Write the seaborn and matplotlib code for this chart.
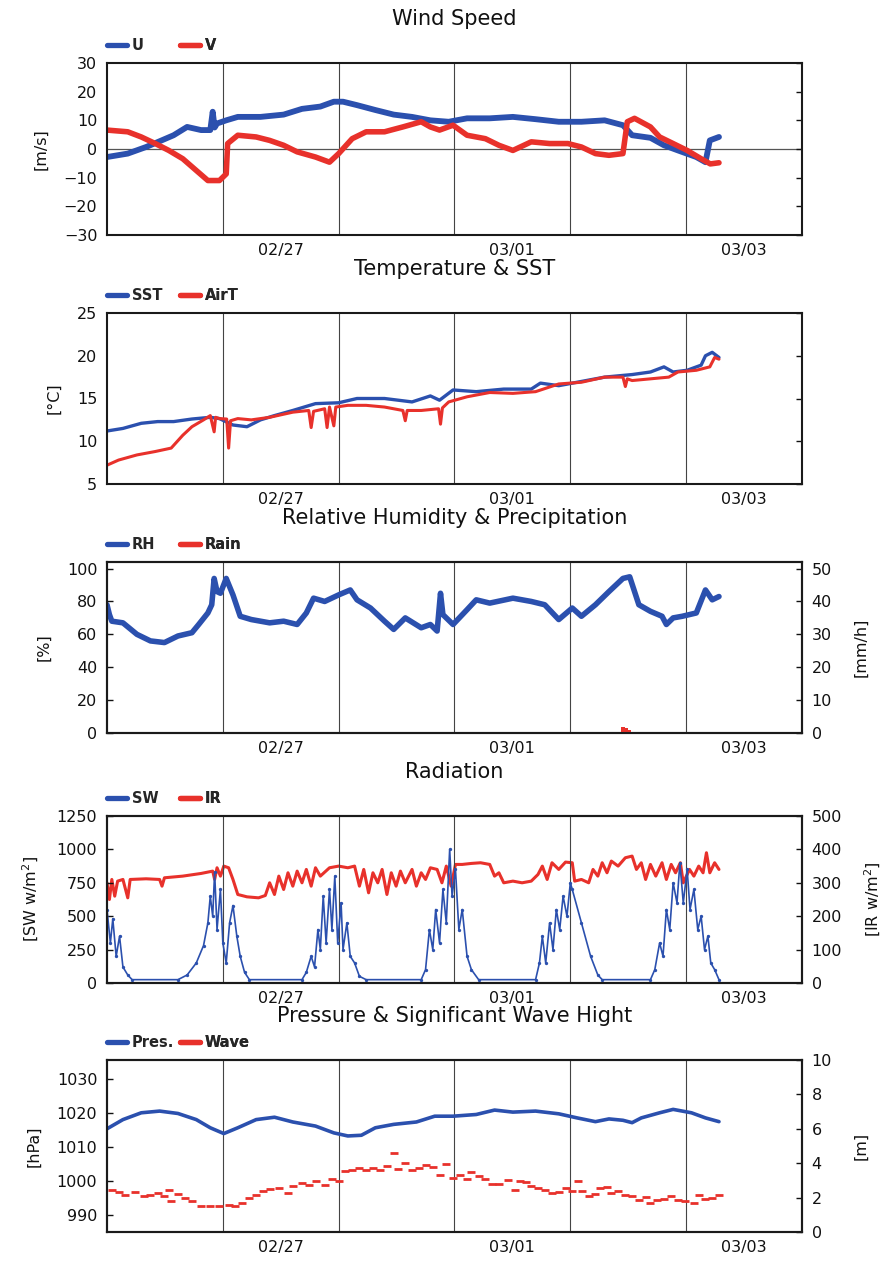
import numpy as np
import pandas as pd
import matplotlib
matplotlib.use("Agg")
import matplotlib.pyplot as plt
from matplotlib.lines import Line2D
import seaborn as sns

# ---------------- data (hours since 02/26 00:00) ----------------
day_labels = ["02/27", "03/01", "03/03"]
day_label_hours = [36, 84, 132]
grid_hours = [24, 48, 72, 96, 120]

u_hours = [0, 4.3, 8.1, 10.9, 13.8, 16.6, 19.5, 21.4, 21.9, 22.3, 22.8, 24.7, 27.1, 31.8, 36.6, 40.4, 44.2, 47.0, 48.9, 51.8,
           55.6, 59.4, 63.2, 67.0, 70.8, 74.6, 79.3, 84.1, 88.8, 93.6, 98.3, 103.1, 106.9, 108.8, 112.6, 115.4, 118.3, 122.1, 124.0, 124.9, 126.8]
u_vals = [-2.8, -1.6, 0.7, 2.7, 4.8, 7.7, 6.6, 6.6, 13.0, 7.5, 8.9, 10.0, 11.2, 11.2, 12.0, 14.0, 14.8, 16.5, 16.5, 15.3,
          13.6, 12.0, 11.2, 10.0, 9.5, 10.7, 10.7, 11.2, 10.4, 9.5, 9.5, 10.0, 8.3, 4.8, 3.9, 1.3, -0.5, -2.8, -4.6, 3.0, 4.2]
v_hours = [0, 4.3, 7.1, 10.0, 12.8, 15.7, 18.5, 20.9, 23.3, 24.7, 25.0, 27.1, 30.9, 33.7, 36.6, 39.4, 43.2, 46.1, 48.0, 50.8,
           53.7, 57.5, 61.3, 65.1, 67.0, 68.9, 71.7, 74.6, 78.4, 81.2, 84.1, 87.9, 91.7, 95.5, 98.3, 101.2, 104.0, 106.9, 107.8, 109.3,
           112.6, 114.5, 117.3, 120.2, 123.1, 125.0, 126.8]
v_vals = [6.6, 6.0, 4.2, 1.9, -0.5, -3.4, -7.5, -11, -11, -8.7, 1.9, 4.8, 4.2, 3.0, 1.3, -1.0, -2.8, -4.6, -1.6, 3.6,
          6.0, 6.0, 7.7, 9.5, 7.7, 6.6, 8.3, 4.8, 3.6, 1.3, -0.5, 2.5, 1.9, 1.9, 0.7, -1.6, -2.2, -1.6, 9.5, 10.7,
          7.7, 4.2, 1.9, -0.5, -3.4, -5.2, -4.8]

sst_hours = [0, 3.3, 7.1, 10.5, 13.8, 17.6, 21.4, 23.3, 26.1, 29.0, 31.8, 34.7, 38.5, 43.2, 48.0, 51.8, 57.5, 63.2, 67.0, 68.9,
             71.7, 76.5, 82.2, 87.9, 89.8, 93.6, 97.4, 103.1, 108.8, 112.6, 115.4, 117.3, 120.2, 123.1, 124.0, 125.4, 126.8]
sst_vals = [11.2, 11.5, 12.1, 12.3, 12.3, 12.6, 12.8, 12.65, 11.9, 11.7, 12.5, 13.0, 13.6, 14.4, 14.5, 15.0, 15.0, 14.6, 15.3, 14.8,
            16.0, 15.8, 16.1, 16.1, 16.8, 16.5, 16.9, 17.5, 17.8, 18.1, 18.7, 18.1, 18.3, 18.9, 20.0, 20.4, 19.8]
airt_hours = [0, 2.4, 6.2, 10.0, 13.3, 15.7, 17.6, 20.0, 21.4, 22.2, 22.5, 23.3, 24.8, 25.2, 25.6, 27.1, 29.9, 33.7, 38.5, 41.8,
              42.3, 42.8, 45.1, 45.6, 46.1, 47.0, 47.4, 49.9, 53.7, 57.5, 61.3, 61.8, 62.2, 65.1, 68.7, 69.1, 69.5, 70.8, 74.6, 79.3,
              84.1, 88.8, 93.6, 98.3, 103.1, 106.9, 107.4, 107.8, 108.8, 112.6, 116.4, 118.3, 122.1, 124.9, 125.9, 126.8]
airt_vals = [7.2, 7.8, 8.4, 8.8, 9.2, 10.7, 11.7, 12.5, 13.0, 11.1, 12.8, 12.65, 12.6, 9.2, 12.4, 12.65, 12.5, 12.8, 13.4, 13.6,
             11.6, 13.5, 13.8, 11.6, 14.0, 11.8, 14.0, 14.2, 14.2, 14.0, 13.6, 12.4, 13.6, 13.6, 13.8, 12.0, 13.9, 14.6, 15.2, 15.7,
             15.6, 15.8, 16.7, 16.9, 17.5, 17.5, 16.4, 17.3, 17.1, 17.3, 17.5, 18.1, 18.3, 18.7, 19.8, 19.6]

rh_hours = [0, 0.5, 1.0, 3.3, 6.2, 9.0, 11.9, 14.7, 17.6, 19.0, 20.9, 21.7, 22.2, 22.8, 23.5, 24.7, 26.1, 27.6, 29.9, 33.7,
            36.6, 39.4, 41.3, 42.8, 45.1, 48.0, 50.4, 51.8, 54.6, 57.5, 59.4, 61.8, 65.1, 67.0, 68.4, 69.1, 69.6, 71.7, 74.6, 76.5,
            79.3, 84.1, 87.9, 90.7, 93.6, 96.4, 98.3, 101.2, 104.0, 106.9, 108.3, 110.2, 112.6, 115.0, 115.9, 117.3, 119.2, 122.1, 124.0, 125.4,
            126.8]
rh_vals = [78, 72, 68, 67, 60, 56, 55, 59, 61, 66, 73, 78, 94, 86, 85, 94, 84, 71, 69, 67,
           68, 66, 73, 82, 80, 84, 87, 81, 76, 68, 63, 70, 64, 66, 62, 85, 72, 66, 75, 81,
           79, 82, 80, 78, 69, 76, 71, 78, 86, 94, 95, 78, 74, 71, 66, 70, 71, 73, 87, 81,
           83]
rain_hours = [106.9, 107.6, 108.2]
rain_vals = [1.9, 1.6, 0.9]

sw_hours = [0, 0.7, 1.2, 1.9, 2.6, 3.3, 4.3, 5.2, 14.7, 16.6, 18.5, 20.0, 20.9, 21.4, 21.9, 22.3, 22.8, 23.5, 24.0, 24.7,
            25.4, 26.1, 26.9, 27.6, 28.5, 29.5, 40.4, 41.3, 42.3, 43.0, 43.7, 44.2, 44.8, 45.4, 46.1, 46.6, 47.2, 47.8, 48.5, 48.9,
            49.7, 50.4, 51.3, 52.3, 53.7, 65.1, 66.0, 66.8, 67.5, 68.1, 68.9, 69.6, 70.3, 71.0, 71.5, 72.2, 72.9, 73.6, 74.6, 75.5,
            77.0, 88.8, 89.6, 90.2, 90.9, 91.7, 92.4, 93.1, 93.8, 94.5, 95.3, 96.0, 96.4, 98.3, 100.2, 101.7, 102.6, 112.6, 113.5, 114.5,
            115.2, 115.9, 116.6, 117.3, 118.1, 118.7, 119.4, 120.2, 120.8, 121.6, 122.4, 123.1, 123.8, 124.5, 125.1, 125.9, 126.8]
sw_vals = [550, 300, 480, 200, 350, 120, 60, 25, 25, 60, 150, 280, 450, 650, 500, 830, 400, 700, 300, 150,
           450, 580, 350, 200, 80, 25, 25, 80, 200, 120, 400, 250, 650, 300, 700, 400, 800, 300, 600, 250,
           450, 200, 150, 50, 25, 25, 100, 400, 250, 550, 300, 700, 450, 1000, 650, 850, 400, 550, 200, 100,
           25, 25, 150, 350, 150, 450, 250, 550, 400, 650, 500, 750, 700, 450, 200, 60, 25, 25, 100, 300,
           200, 550, 400, 750, 600, 900, 600, 850, 550, 700, 400, 500, 250, 350, 150, 100, 25]

ir_hours = [0, 0.5, 1.0, 1.6, 2.2, 3.3, 4.3, 4.8, 8.1, 10.9, 11.4, 11.9, 15.7, 19.5, 21.9, 22.3, 22.8, 23.5, 24.2, 25.2,
            26.1, 27.1, 29.0, 31.4, 32.8, 33.7, 34.7, 35.6, 36.6, 37.5, 38.5, 39.4, 40.4, 41.3, 42.3, 43.2, 44.2, 46.1, 48.0, 49.9,
            51.3, 52.3, 53.2, 54.2, 55.1, 56.1, 57.0, 58.0, 58.9, 59.9, 60.8, 61.8, 63.2, 64.1, 65.1, 66.0, 67.0, 68.4, 69.4, 70.3,
            71.3, 72.2, 73.6, 75.5, 77.4, 79.3, 80.3, 81.2, 82.2, 84.1, 86.0, 87.9, 89.3, 90.2, 91.2, 92.2, 93.6, 95.0, 96.4, 96.9,
            98.3, 99.8, 100.7, 101.7, 102.6, 103.6, 104.5, 105.9, 107.4, 108.8, 109.7, 110.7, 111.6, 112.6, 113.7, 115.0, 115.9, 116.9, 117.8, 118.8,
            119.4, 120.7, 121.6, 122.6, 123.5, 124.2, 124.9, 125.9, 126.8]
ir_vals = [300, 250, 310, 260, 305, 310, 255, 310, 312, 310, 290, 315, 320, 328, 335, 310, 345, 320, 350, 345,
           310, 265, 258, 255, 262, 300, 265, 320, 280, 330, 290, 335, 300, 340, 290, 345, 320, 345, 350, 345,
           350, 290, 340, 270, 330, 300, 340, 265, 330, 290, 335, 300, 340, 290, 330, 310, 345, 340, 300, 350,
           290, 355, 355, 358, 360, 355, 320, 330, 300, 305, 300, 305, 325, 350, 310, 360, 340, 362, 360, 305,
           310, 300, 340, 320, 360, 330, 365, 350, 375, 380, 340, 360, 310, 355, 320, 360, 310, 355, 330, 360,
           300, 340, 320, 350, 330, 390, 330, 360, 340]

pres_hours = [0, 3.3, 7.1, 10.9, 14.7, 18.5, 21.4, 24.2, 27.1, 30.9, 34.7, 38.5, 43.2, 47.0, 49.9, 52.7, 55.6, 59.4, 64.1, 67.9,
              71.7, 76.5, 80.3, 84.1, 88.8, 93.6, 97.4, 101.2, 104.0, 106.9, 108.8, 110.7, 114.5, 117.3, 121.1, 124.0, 126.8]
pres_vals = [1015.3, 1018.0, 1020.0, 1020.5, 1019.8, 1018.0, 1015.6, 1013.9, 1015.6, 1018.0, 1018.7, 1017.3, 1016.1, 1014.1, 1013.2,
             1013.4, 1015.6, 1016.6, 1017.3, 1019.0, 1019.0, 1019.5, 1020.8, 1020.2, 1020.5, 1019.7, 1018.5, 1017.4, 1018.2, 1017.8,
             1017.1, 1018.5, 1020.0, 1021.0, 1020.0, 1018.5, 1017.4]
wave_hours = [1.0, 2.4, 3.8, 5.7, 7.6, 9.0, 10.5, 11.9, 12.8, 13.3, 14.7, 16.2, 17.6, 19.5, 21.4, 23.3, 25.2, 26.6, 28.0, 29.5,
              30.9, 32.3, 33.7, 35.6, 37.5, 38.5, 40.4, 41.8, 43.2, 45.1, 46.6, 48.0, 49.4, 50.8, 52.3, 53.7, 55.1, 56.5, 58.0, 59.4,
              60.3, 61.8, 63.2, 64.6, 66.0, 67.5, 68.9, 70.3, 71.7, 73.2, 74.6, 75.5, 77.0, 78.4, 79.8, 81.2, 83.1, 84.6, 85.5, 86.9,
              87.9, 89.3, 90.7, 92.2, 93.6, 95.0, 96.4, 97.6, 98.5, 99.8, 101.2, 102.1, 103.6, 104.5, 105.9, 107.4, 108.8, 110.2, 111.6, 112.6,
              114.0, 115.4, 116.9, 118.3, 119.7, 121.6, 122.6, 124.0, 125.4, 126.8]
wave_vals = [2.43, 2.31, 2.17, 2.31, 2.08, 2.17, 2.27, 2.08, 2.43, 1.79, 2.21, 1.98, 1.79, 1.53, 1.50, 1.50, 1.59, 1.50, 1.69, 1.98,
             2.17, 2.37, 2.50, 2.56, 2.27, 2.66, 2.82, 2.76, 2.95, 2.76, 3.09, 2.95, 3.53, 3.63, 3.73, 3.63, 3.73, 3.63, 3.83, 4.60,
             3.67, 4.02, 3.59, 3.73, 3.92, 3.79, 3.34, 3.96, 3.15, 3.34, 3.09, 3.50, 3.24, 3.09, 2.80, 2.80, 3.05, 2.43, 2.95, 2.89,
             2.70, 2.56, 2.47, 2.27, 2.31, 2.56, 2.37, 2.95, 2.41, 2.12, 2.23, 2.56, 2.62, 2.27, 2.37, 2.17, 2.12, 1.88, 2.02, 1.69,
             1.88, 1.94, 2.08, 1.88, 1.83, 1.69, 2.17, 1.94, 1.98, 2.17]

# ---------------- style ----------------
sns.set_style("white")
plt.rcParams["font.family"] = ["DejaVu Sans"]
BLUE = "#2b50ae"
RED = "#e8312b"
TXT = "#111111"
FS = 11.5
LEG_FS = 10.5

FIG_W, FIG_H = 883, 1261
fig = plt.figure(figsize=(FIG_W / 100, FIG_H / 100), dpi=100)
LEFT_PX, RIGHT_PX = 107, 802
panels_px = [(63, 235), (313, 484), (562, 733), (816, 983), (1060, 1232)]
axes = []
for top, bot in panels_px:
    axes.append(fig.add_axes([LEFT_PX / FIG_W, 1 - bot / FIG_H, (RIGHT_PX - LEFT_PX) / FIG_W, (bot - top) / FIG_H]))


def style(ax, hpx, ylim, yticks, ylabel, title, legend, right=True):
    ax.set_xlim(0, 144)
    ax.set_ylim(*ylim)
    ax.set_yticks(yticks)
    ax.set_xticks(day_label_hours)
    ax.set_xticklabels(day_labels)
    ax.tick_params(axis="x", length=0, pad=6, labelsize=FS, colors=TXT)
    ax.tick_params(axis="y", direction="in", length=4, width=1, labelsize=FS, pad=7, right=right, colors=TXT)
    for h in grid_hours:
        ax.axvline(h, color="#444444", lw=0.8, zorder=0.5)
    for s in ax.spines.values():
        s.set_linewidth(1.5)
        s.set_color("#1a1a1a")
    ax.set_xlabel("")
    ax.set_ylabel(ylabel, fontsize=FS, labelpad=11, color=TXT)
    ax.text(0.5, 1 + 44 / hpx, title, transform=ax.transAxes, ha="center", va="center",
            fontsize=15, color=TXT)
    for i, (lab, col) in enumerate(legend):
        hnd = Line2D([], [], color=col, lw=3.8)
        lg = ax.legend([hnd], [lab], loc="lower left", bbox_to_anchor=(0.105 * i, 1 + 10 / hpx),
                       frameon=False, handlelength=1.4, handletextpad=0.3, borderpad=0,
                       borderaxespad=0, prop={"weight": "bold", "size": LEG_FS})
        ax.add_artist(lg)


def right_axis(ax, ylim, yticks, ylabel):
    r = ax.twinx()
    r.set_ylim(*ylim)
    r.set_yticks(yticks)
    r.tick_params(axis="y", direction="in", length=4, width=1, labelsize=FS, pad=7, colors=TXT)
    r.set_ylabel(ylabel, fontsize=FS, labelpad=15, color=TXT)
    for s in r.spines.values():
        s.set_linewidth(1.5)
        s.set_color("#1a1a1a")
    return r


# ---- Panel 1: wind ----
ax = axes[0]
ax.axhline(0, color="#555555", lw=0.9, zorder=0.5)
sns.lineplot(x=u_hours, y=u_vals, ax=ax, color=BLUE, lw=4.2, sort=False, estimator=None)
sns.lineplot(x=v_hours, y=v_vals, ax=ax, color=RED, lw=4.0, sort=False, estimator=None)
style(ax, 172, (-30, 30), range(-30, 31, 10), "[m/s]", "Wind Speed", [("U", BLUE), ("V", RED)])

# ---- Panel 2: temperature ----
ax = axes[1]
sns.lineplot(x=sst_hours, y=sst_vals, ax=ax, color=BLUE, lw=2.4, sort=False, estimator=None)
sns.lineplot(x=airt_hours, y=airt_vals, ax=ax, color=RED, lw=2.2, sort=False, estimator=None)
style(ax, 171, (5, 25), range(5, 26, 5), "[°C]", "Temperature & SST", [("SST", BLUE), ("AirT", RED)])

# ---- Panel 3: humidity & rain ----
ax = axes[2]
sns.lineplot(x=rh_hours, y=rh_vals, ax=ax, color=BLUE, lw=4.0, sort=False, estimator=None)
style(ax, 171, (0, 104), range(0, 101, 20), "[%]", "Relative Humidity & Precipitation",
      [("RH", BLUE), ("Rain", RED)], right=False)
r3 = right_axis(ax, (0, 52), range(0, 51, 10), "[mm/h]")
r3.bar(rain_hours, rain_vals, width=0.75, color=RED, linewidth=0)

# ---- Panel 4: radiation ----
ax = axes[3]
style(ax, 167, (0, 1250), range(0, 1251, 250), "[SW w/m$^2$]", "Radiation",
      [("SW", BLUE), ("IR", RED)], right=False)
r4 = right_axis(ax, (0, 500), range(0, 501, 100), "[IR w/m$^2$]")
sns.lineplot(x=ir_hours, y=ir_vals, ax=r4, color=RED, lw=2.2, sort=False, estimator=None)
sns.lineplot(x=sw_hours, y=sw_vals, ax=ax, color=BLUE, lw=1.2, sort=False, estimator=None,
             marker="o", markersize=2.4, markeredgewidth=0)
ax.set_zorder(r4.get_zorder() + 1)
ax.patch.set_visible(False)
ax.set_xlabel("")
ax.set_ylabel("[SW w/m$^2$]", fontsize=FS, labelpad=11, color=TXT)

# ---- Panel 5: pressure & wave ----
ax = axes[4]
sns.lineplot(x=pres_hours, y=pres_vals, ax=ax, color=BLUE, lw=2.6, sort=False, estimator=None)
style(ax, 172, (985, 1035.5), range(990, 1031, 10), "[hPa]", "Pressure & Significant Wave Hight",
      [("Pres.", BLUE), ("Wave", RED)], right=False)
r5 = right_axis(ax, (0, 10), range(0, 11, 2), "[m]")
sns.scatterplot(x=wave_hours, y=wave_vals, ax=r5, color=RED, marker="_", s=30, linewidth=2.0)

for r in (r3, r4, r5):
    r.set_xlim(0, 144)
    r.set_xlabel("")

fig.savefig("out.png", dpi=100)
